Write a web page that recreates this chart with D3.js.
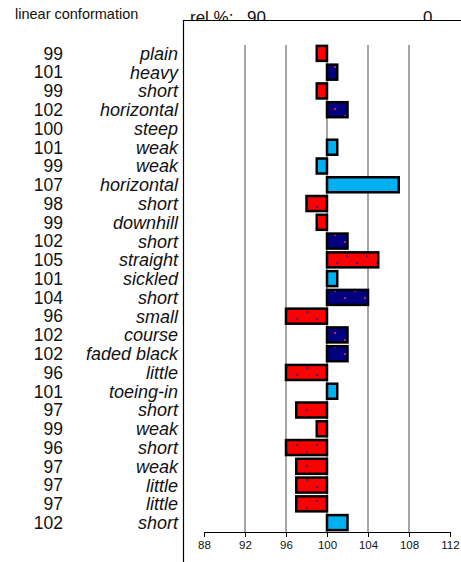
<html>
<head>
<meta charset="utf-8">
<style>
  body { margin: 0; background: #fff; }
  text { font-family: "Liberation Sans", Arial, sans-serif; fill: #111; }
</style>
</head>
<body>
<script src="https://cdn.jsdelivr.net/npm/d3@7"></script>
<script>
var width = 461, height = 562;

// rows, top to bottom
var traits = ["plain", "heavy", "short", "horizontal", "steep", "weak", "weak", "horizontal",
  "short", "downhill", "short", "straight", "sickled", "short", "small", "course",
  "faded black", "little", "toeing-in", "short", "weak", "short", "weak", "little", "little", "short"];
var relValues = [99, 101, 99, 102, 100, 101, 99, 107, 98, 99, 102, 105, 101, 104, 96, 102,
  102, 96, 101, 97, 99, 96, 97, 97, 97, 102];
// colour group of each bar: r = red, n = navy, b = light blue
var groups = ["r", "n", "r", "n", "b", "b", "b", "b", "r", "r", "n", "r", "b", "n", "r", "n",
  "n", "r", "b", "r", "r", "r", "r", "r", "r", "b"];
var xTicks = [88, 92, 96, 100, 104, 108, 112];
var gridTicks = [92, 96, 100, 104, 108];

var rows = traits.map((t, i) => ({ i: i, trait: t, value: relValues[i], group: groups[i] }));

var svg = d3.select("body").append("svg")
  .attr("width", width)
  .attr("height", height);

var defs = svg.append("defs");
// speckled fills
var pr = defs.append("pattern").attr("id", "pRed").attr("patternUnits", "userSpaceOnUse")
  .attr("width", 20).attr("height", 14);
pr.append("rect").attr("width", 20).attr("height", 14).attr("fill", "#ff0000");
pr.append("rect").attr("x", 6).attr("y", 3).attr("width", 2).attr("height", 2).attr("fill", "#502070");
pr.append("rect").attr("x", 16).attr("y", 10).attr("width", 2).attr("height", 2).attr("fill", "#502070");
var pn = defs.append("pattern").attr("id", "pNavy").attr("patternUnits", "userSpaceOnUse")
  .attr("width", 20).attr("height", 14);
pn.append("rect").attr("width", 20).attr("height", 14).attr("fill", "#000080");
pn.append("rect").attr("x", 4).attr("y", 3).attr("width", 2).attr("height", 2).attr("fill", "#c0205a");
pn.append("rect").attr("x", 14).attr("y", 10).attr("width", 2).attr("height", 2).attr("fill", "#c0205a");

var fills = { r: "url(#pRed)", n: "url(#pNavy)", b: "#00b0f0" };

var x = d3.scaleLinear().domain([88, 112]).range([204, 450]);
var y = d3.scaleBand().domain(d3.range(traits.length)).range([44, 532])
  .paddingInner(0.2).paddingOuter(0.1);

// header
svg.append("text").attr("x", 15).attr("y", 19).attr("font-size", 14.5).text("linear conformation");
svg.append("text").attr("x", 190).attr("y", 23).attr("font-size", 17).text("rel %:");
svg.append("text").attr("x", 247).attr("y", 23).attr("font-size", 17).text("90");
svg.append("text").attr("x", 423).attr("y", 23).attr("font-size", 17).text("0");

// panel frame (covers bottom of header text)
svg.append("rect").attr("x", 183.5).attr("y", 20.5).attr("width", 300).attr("height", 560)
  .attr("fill", "#fff");
svg.append("path").attr("d", "M183.5,562V20.5H461")
  .attr("fill", "none").attr("stroke", "#000").attr("stroke-width", 1.2);

// grid
svg.append("g").selectAll("line").data(gridTicks).join("line")
  .attr("x1", d => x(d)).attr("x2", d => x(d))
  .attr("y1", 45).attr("y2", 532)
  .attr("stroke", "#888").attr("stroke-width", 1.5);

// bars
svg.append("g").selectAll("rect").data(rows.filter(d => d.value !== 100)).join("rect")
  .attr("x", d => x(Math.min(d.value, 100)))
  .attr("width", d => Math.abs(x(d.value) - x(100)))
  .attr("y", d => y(d.i))
  .attr("height", y.bandwidth())
  .attr("fill", d => fills[d.group])
  .attr("stroke", "#000").attr("stroke-width", 2.5);

// left labels
svg.append("g").selectAll("text").data(rows).join("text")
  .attr("x", 63).attr("y", d => y(d.i) + y.bandwidth() / 2)
  .attr("dy", "0.36em").attr("text-anchor", "end").attr("font-size", 17.5)
  .text(d => d.value);
svg.append("g").selectAll("text").data(rows).join("text")
  .attr("x", 178).attr("y", d => y(d.i) + y.bandwidth() / 2)
  .attr("dy", "0.36em").attr("text-anchor", "end").attr("font-size", 18)
  .attr("font-style", "italic")
  .text(d => d.trait);

// axis
var axis = svg.append("g").attr("transform", "translate(0,532)")
  .call(d3.axisBottom(x).tickValues(xTicks).tickSize(5).tickPadding(4));
axis.select(".domain").attr("stroke", "#000");
axis.selectAll("text").attr("font-size", 11.5).attr("fill", "#111")
  .attr("font-family", "Liberation Sans, Arial, sans-serif");
</script>
</body>
</html>
